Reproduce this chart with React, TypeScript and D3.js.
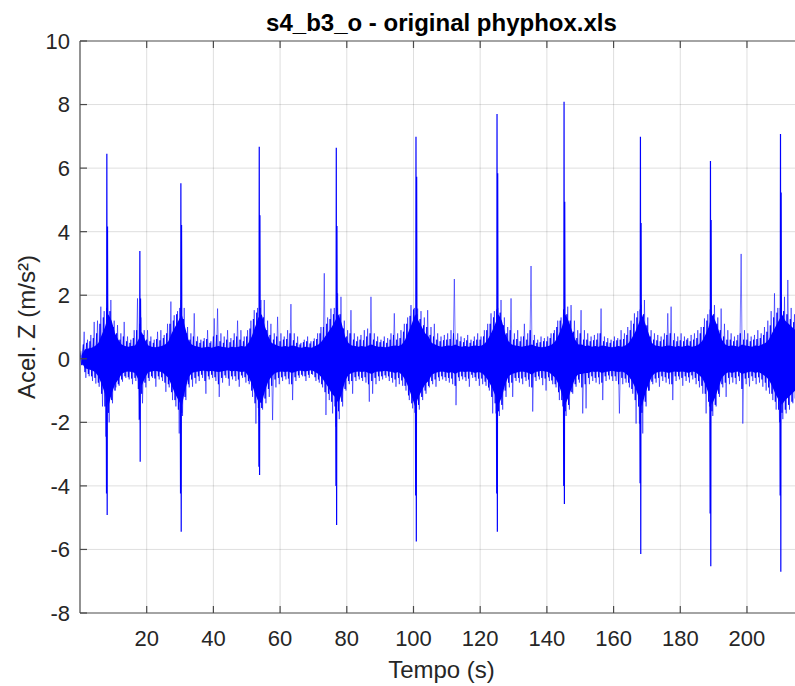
import React, { useEffect, useRef } from "react";
import * as d3 from "d3";

// axis ticks
const xTicks = [20, 40, 60, 80, 100, 120, 140, 160, 180, 200];
const yTicks = [-8, -6, -4, -2, 0, 2, 4, 6, 8, 10];

// signal envelope, one bin per second starting at t = 0
// solid core of the trace
const coreHi = [
  0.12, 0.3, 0.32, 0.35, 0.4, 0.5, 0.75, 1.0, 1.4, 1.2,
  0.8, 0.6, 0.45, 0.4, 0.38, 0.4, 0.42, 0.6, 0.85, 0.6,
  0.42, 0.38, 0.36, 0.38, 0.4, 0.45, 0.55, 0.8, 1.0, 1.2,
  1.4, 1.0, 0.6, 0.45, 0.4, 0.38, 0.35, 0.36, 0.38, 0.35,
  0.38, 0.4, 0.38, 0.36, 0.35, 0.38, 0.36, 0.38, 0.4, 0.38,
  0.5, 0.7, 1.0, 1.3, 1.4, 1.0, 0.7, 0.5, 0.45, 0.4,
  0.38, 0.4, 0.38, 0.42, 0.4, 0.36, 0.35, 0.38, 0.36, 0.35,
  0.4, 0.45, 0.55, 0.7, 0.85, 1.0, 1.2, 1.4, 1.1, 0.7,
  0.5, 0.42, 0.4, 0.38, 0.4, 0.38, 0.42, 0.45, 0.4, 0.38,
  0.38, 0.36, 0.38, 0.4, 0.42, 0.4, 0.45, 0.6, 0.85, 1.1,
  1.4, 1.2, 1.0, 0.8, 0.7, 0.5, 0.45, 0.4, 0.38, 0.4,
  0.42, 0.4, 0.45, 0.4, 0.38, 0.4, 0.38, 0.4, 0.42, 0.4,
  0.42, 0.5, 0.65, 0.85, 1.1, 1.4, 1.2, 0.8, 0.55, 0.45,
  0.42, 0.4, 0.38, 0.4, 0.42, 0.45, 0.4, 0.38, 0.36, 0.38,
  0.4, 0.45, 0.55, 0.75, 1.0, 1.4, 1.2, 0.9, 0.6, 0.45,
  0.45, 0.4, 0.42, 0.38, 0.4, 0.38, 0.42, 0.4, 0.38, 0.36,
  0.38, 0.4, 0.38, 0.42, 0.5, 0.65, 0.85, 1.1, 1.4, 1.1,
  0.8, 0.5, 0.42, 0.4, 0.38, 0.4, 0.42, 0.4, 0.38, 0.4,
  0.38, 0.4, 0.42, 0.38, 0.4, 0.45, 0.55, 0.75, 1.0, 1.4,
  1.2, 0.9, 0.6, 0.45, 0.4, 0.42, 0.4, 0.38, 0.45, 0.42,
  0.4, 0.38, 0.42, 0.4, 0.45, 0.5, 0.6, 0.8, 1.0, 1.2,
  1.4, 1.2, 1.1, 1.0, 0.9, 0.9, 0.85,
];
const coreLo = [
  -0.12, -0.3, -0.33, -0.36, -0.42, -0.55, -0.8, -1.1, -1.5, -1.1,
  -0.8, -0.65, -0.48, -0.42, -0.4, -0.42, -0.45, -0.65, -0.85, -0.6,
  -0.42, -0.4, -0.38, -0.4, -0.42, -0.5, -0.6, -0.85, -1.1, -1.3,
  -1.5, -1.0, -0.6, -0.45, -0.42, -0.4, -0.38, -0.38, -0.4, -0.38,
  -0.4, -0.42, -0.4, -0.38, -0.36, -0.4, -0.38, -0.4, -0.42, -0.4,
  -0.55, -0.8, -1.1, -1.35, -1.4, -1.0, -0.7, -0.55, -0.45, -0.42,
  -0.4, -0.42, -0.4, -0.45, -0.42, -0.38, -0.38, -0.4, -0.38, -0.36,
  -0.42, -0.48, -0.6, -0.75, -0.9, -1.1, -1.2, -1.4, -1.1, -0.7,
  -0.5, -0.45, -0.42, -0.4, -0.42, -0.4, -0.45, -0.48, -0.42, -0.4,
  -0.4, -0.38, -0.4, -0.42, -0.45, -0.42, -0.5, -0.65, -0.9, -1.2,
  -1.5, -1.2, -1.0, -0.8, -0.7, -0.5, -0.45, -0.42, -0.4, -0.42,
  -0.45, -0.42, -0.48, -0.42, -0.4, -0.42, -0.4, -0.42, -0.45, -0.42,
  -0.45, -0.55, -0.7, -0.9, -1.15, -1.45, -1.2, -0.8, -0.55, -0.48,
  -0.45, -0.42, -0.4, -0.42, -0.45, -0.5, -0.42, -0.4, -0.38, -0.4,
  -0.42, -0.5, -0.6, -0.8, -1.1, -1.45, -1.2, -0.9, -0.6, -0.48,
  -0.48, -0.45, -0.45, -0.4, -0.42, -0.4, -0.45, -0.42, -0.4, -0.38,
  -0.4, -0.42, -0.4, -0.45, -0.55, -0.7, -0.9, -1.2, -1.5, -1.1,
  -0.8, -0.55, -0.45, -0.42, -0.4, -0.42, -0.45, -0.42, -0.4, -0.42,
  -0.4, -0.42, -0.45, -0.4, -0.42, -0.5, -0.6, -0.8, -1.1, -1.45,
  -1.2, -0.9, -0.6, -0.48, -0.42, -0.45, -0.42, -0.4, -0.48, -0.45,
  -0.42, -0.4, -0.45, -0.42, -0.48, -0.55, -0.65, -0.85, -1.1, -1.3,
  -1.45, -1.3, -1.2, -1.1, -1.0, -1.0, -0.95,
];
// ragged fringe around the core
const midHi = [
  0.2, 0.45, 0.5, 0.55, 0.65, 0.8, 1.1, 1.3, 1.6, 1.5,
  1.0, 0.8, 0.6, 0.7, 0.55, 0.5, 0.65, 0.9, 1.1, 0.75,
  0.6, 0.55, 0.5, 0.62, 0.58, 0.65, 0.8, 1.1, 1.2, 1.4,
  1.6, 1.25, 0.8, 0.6, 0.7, 0.55, 0.5, 0.55, 0.62, 0.5,
  0.7, 0.75, 0.55, 0.5, 0.6, 0.52, 0.58, 0.7, 0.6, 0.55,
  0.7, 0.95, 1.25, 1.45, 1.6, 1.3, 0.9, 0.75, 0.6, 0.7,
  0.55, 0.6, 0.62, 0.8, 0.58, 0.5, 0.45, 0.52, 0.55, 0.48,
  0.55, 0.62, 0.8, 1.0, 1.1, 1.25, 1.4, 1.6, 1.4, 0.95,
  0.7, 0.8, 0.6, 0.55, 0.6, 0.58, 0.7, 0.8, 0.6, 0.55,
  0.52, 0.55, 0.5, 0.6, 0.75, 0.6, 0.65, 0.85, 1.1, 1.35,
  1.55, 1.4, 1.25, 1.05, 1.0, 0.75, 0.7, 0.6, 0.55, 0.58,
  0.6, 0.62, 0.8, 0.6, 0.55, 0.52, 0.58, 0.5, 0.55, 0.6,
  0.6, 0.7, 0.9, 1.1, 1.3, 1.55, 1.45, 1.05, 0.8, 0.9,
  0.6, 0.62, 0.55, 0.7, 0.6, 0.9, 0.58, 0.5, 0.52, 0.55,
  0.55, 0.65, 0.8, 1.0, 1.2, 1.55, 1.4, 1.2, 0.85, 0.65,
  0.8, 0.6, 0.6, 0.55, 0.58, 0.6, 0.8, 0.55, 0.52, 0.5,
  0.55, 0.58, 0.6, 0.62, 0.75, 0.9, 1.1, 1.3, 1.55, 1.4,
  1.05, 0.7, 0.6, 0.58, 0.55, 0.6, 0.75, 0.8, 0.58, 0.55,
  0.58, 0.55, 0.6, 0.55, 0.6, 0.65, 0.8, 1.0, 1.2, 1.55,
  1.4, 1.1, 0.9, 0.7, 0.6, 0.6, 0.55, 0.58, 0.8, 0.6,
  0.6, 0.55, 0.6, 0.62, 0.65, 0.75, 0.85, 1.05, 1.3, 1.45,
  1.6, 1.5, 1.4, 1.25, 1.15, 1.1, 1.05,
];
const midLo = [
  -0.2, -0.42, -0.48, -0.55, -0.6, -0.75, -1.1, -1.5, -1.7, -1.3,
  -1.0, -0.8, -0.65, -0.55, -0.58, -0.62, -0.6, -0.95, -1.1, -0.75,
  -0.6, -0.55, -0.62, -0.55, -0.58, -0.75, -0.8, -1.05, -1.3, -1.6,
  -1.7, -1.2, -0.8, -0.65, -0.6, -0.55, -0.5, -0.7, -0.55, -0.5,
  -0.58, -0.8, -0.6, -0.52, -0.62, -0.55, -0.55, -0.65, -0.52, -0.58,
  -0.7, -1.0, -1.4, -1.55, -1.55, -1.25, -0.95, -0.85, -0.65, -0.6,
  -0.58, -0.55, -0.62, -0.8, -0.58, -0.52, -0.5, -0.55, -0.5, -0.48,
  -0.58, -0.65, -0.8, -1.05, -1.1, -1.35, -1.5, -1.65, -1.35, -0.95,
  -0.7, -0.7, -0.58, -0.55, -0.6, -0.58, -0.8, -0.7, -0.6, -0.55,
  -0.55, -0.52, -0.55, -0.6, -0.65, -0.6, -0.68, -0.85, -1.15, -1.4,
  -1.7, -1.45, -1.2, -1.0, -0.85, -0.7, -0.65, -0.58, -0.55, -0.58,
  -0.6, -0.62, -0.85, -0.58, -0.55, -0.58, -0.62, -0.5, -0.58, -0.62,
  -0.62, -0.72, -0.9, -1.2, -1.4, -1.65, -1.45, -1.0, -0.75, -0.75,
  -0.6, -0.6, -0.62, -0.58, -0.65, -0.9, -0.58, -0.55, -0.6, -0.62,
  -0.58, -0.68, -0.8, -1.05, -1.3, -1.65, -1.45, -1.05, -0.8, -0.65,
  -0.9, -0.8, -0.6, -0.55, -0.6, -0.58, -0.75, -0.55, -0.52, -0.55,
  -0.55, -0.8, -0.6, -0.62, -0.75, -0.95, -1.3, -1.5, -1.7, -1.35,
  -1.0, -0.72, -0.62, -0.6, -0.55, -0.58, -0.62, -0.8, -0.55, -0.55,
  -0.6, -0.55, -0.58, -0.52, -0.6, -0.7, -0.85, -1.1, -1.35, -1.65,
  -1.45, -1.1, -0.8, -0.75, -0.6, -0.58, -0.6, -0.55, -0.95, -0.62,
  -0.6, -0.55, -0.6, -0.58, -0.65, -0.75, -0.9, -1.1, -1.35, -1.6,
  -1.7, -1.6, -1.45, -1.35, -1.25, -1.2, -1.15,
];
// thin outer excursions in each second
const peakHi = [
  0.25, 0.85, 0.6, 0.75, 1.16, 1.2, 1.64, 1.5, 1.9, 1.85,
  1.2, 1.06, 0.8, 1.16, 0.7, 0.6, 0.9, 1.9, 1.3, 0.9,
  0.9, 0.7, 0.6, 0.85, 0.9, 0.75, 1.1, 1.8, 1.37, 1.5,
  1.85, 1.6, 1.0, 0.8, 1.43, 0.7, 0.6, 0.65, 0.9, 0.55,
  1.27, 1.58, 0.8, 0.7, 0.9, 0.65, 0.8, 1.2, 0.9, 0.7,
  0.9, 1.2, 1.53, 1.6, 1.85, 1.85, 1.2, 1.1, 0.8, 1.32,
  0.8, 0.7, 0.9, 1.72, 0.8, 0.7, 0.5, 0.6, 0.7, 0.55,
  0.64, 0.8, 1.0, 2.69, 1.3, 1.58, 1.6, 2.06, 1.95, 1.2,
  0.9, 1.53, 0.8, 0.7, 0.75, 0.9, 0.95, 1.95, 0.8, 0.7,
  0.6, 0.7, 0.65, 0.8, 1.43, 0.8, 0.9, 1.1, 1.3, 1.69,
  1.6, 1.58, 1.5, 1.3, 1.53, 1.0, 1.1, 0.8, 0.7, 0.75,
  0.8, 0.9, 2.51, 0.8, 0.7, 0.65, 0.75, 0.6, 0.7, 0.8,
  0.7, 0.9, 1.1, 1.43, 1.5, 1.6, 1.85, 1.3, 1.0, 1.9,
  0.8, 0.9, 0.7, 1.1, 0.8, 2.92, 0.75, 0.6, 0.7, 0.65,
  0.7, 0.8, 0.9, 1.2, 1.3, 1.5, 1.64, 1.69, 1.2, 0.9,
  1.53, 0.9, 0.8, 0.7, 0.75, 0.8, 1.58, 0.7, 0.65, 0.6,
  0.7, 0.65, 0.9, 0.8, 1.0, 1.2, 1.43, 1.5, 1.7, 1.85,
  1.3, 0.9, 0.8, 0.75, 0.7, 0.8, 1.43, 1.64, 0.8, 0.7,
  0.8, 0.7, 0.65, 0.75, 0.8, 0.9, 1.0, 1.27, 1.4, 1.5,
  1.69, 1.3, 1.58, 1.1, 0.9, 0.8, 0.7, 0.75, 3.3, 0.9,
  0.8, 0.7, 0.75, 0.9, 0.8, 1.0, 1.2, 1.5, 2.06, 1.6,
  1.8, 1.95, 2.48, 1.6, 1.4, 1.3, 1.2,
];
const peakLo = [
  -0.2, -0.6, -0.55, -0.7, -0.78, -0.88, -1.5, -2.45, -2.0, -1.4,
  -0.9, -0.85, -0.72, -0.6, -0.65, -0.8, -0.7, -1.93, -1.4, -0.9,
  -0.7, -0.6, -0.88, -0.65, -0.7, -1.04, -0.9, -1.3, -1.5, -2.35,
  -1.8, -1.3, -0.9, -0.88, -0.78, -0.7, -0.6, -1.1, -0.65, -0.6,
  -0.7, -1.2, -0.75, -0.6, -0.85, -0.65, -0.7, -0.88, -0.6, -0.75,
  -0.8, -1.2, -2.04, -1.8, -1.6, -1.4, -1.2, -1.93, -0.9, -0.8,
  -0.7, -0.65, -0.8, -1.3, -0.7, -0.6, -0.55, -0.7, -0.6, -0.5,
  -0.7, -0.75, -0.9, -1.77, -1.3, -1.72, -2.14, -1.9, -1.5, -1.0,
  -0.8, -1.1, -0.7, -0.65, -0.7, -0.75, -1.35, -1.1, -0.8, -0.7,
  -0.65, -0.6, -0.7, -0.75, -0.88, -0.8, -0.85, -1.0, -1.3, -1.56,
  -1.93, -1.6, -1.3, -1.1, -0.9, -0.8, -0.88, -0.7, -0.65, -0.7,
  -0.75, -0.8, -1.46, -0.7, -0.65, -0.7, -0.88, -0.6, -0.7, -0.85,
  -0.8, -0.85, -1.0, -1.72, -1.72, -1.8, -1.6, -1.2, -0.9, -1.2,
  -0.7, -0.75, -0.8, -0.7, -0.88, -1.66, -0.7, -0.65, -0.83, -1.0,
  -0.7, -0.8, -0.9, -1.3, -1.5, -1.8, -1.6, -1.1, -0.88, -0.75,
  -1.72, -1.56, -0.8, -0.7, -0.75, -0.8, -1.3, -0.7, -0.65, -0.7,
  -0.7, -1.72, -0.8, -0.75, -0.9, -1.1, -2.04, -2.04, -2.35, -1.5,
  -1.0, -0.8, -0.75, -0.88, -0.7, -0.75, -0.8, -1.3, -0.7, -0.65,
  -0.85, -0.7, -0.75, -0.65, -0.8, -0.9, -1.1, -1.72, -1.5, -1.8,
  -1.5, -1.2, -0.9, -1.2, -0.8, -0.75, -0.8, -0.7, -2.04, -0.8,
  -0.87, -0.7, -0.8, -0.75, -0.88, -1.0, -1.1, -1.3, -1.6, -2.0,
  -1.9, -1.72, -1.6, -1.4, -1.3, -1.2, -1.1,
];

// the tall impacts
const spikeT = [8.1, 18.0, 30.3, 53.8, 76.9, 100.8, 125.1, 145.2, 168.1, 189.1, 210.1];
const spikeHi = [6.45, 3.39, 5.52, 6.67, 6.64, 6.99, 7.7, 8.09, 6.99, 6.22, 7.07];
const spikeHi2 = [4.16, 1.9, 4.21, 4.52, 4.18, 5.73, 5.84, 4.94, 4.27, 4.37, 5.23];
const spikeLo = [-4.92, -3.24, -5.44, -3.66, -5.23, -5.75, -5.44, -4.57, -6.14, -6.53, -6.7];
const spikeLo2 = [-4.24, -1.9, -4.24, -3.4, -4.0, -4.3, -4.24, -4.0, -3.92, -4.87, -4.3];

const W = 795;
const H = 686;
const FONT = "'Liberation Sans', Arial, Helvetica, sans-serif";
const BLUE = "#0000ff";

export default function App() {
  const ref = useRef<SVGSVGElement>(null);

  useEffect(() => {
    document.body.style.margin = "0";
    const svg = d3.select(ref.current);
    svg.selectAll("*").remove();

    const x = d3.scaleLinear().domain([0, 216.8]).range([80, 803]);
    const y = d3.scaleLinear().domain([-8, 10]).range([613, 41]);
    const [x0, x1] = x.range();
    const [yb, yt] = y.range();

    svg.append("rect").attr("width", W).attr("height", H).attr("fill", "#fff");

    svg.append("defs").append("clipPath").attr("id", "plotclip")
      .append("rect").attr("x", x0).attr("y", yt).attr("width", x1 - x0).attr("height", yb - yt);

    // grid
    const grid = svg.append("g").attr("stroke", "#262626").attr("stroke-opacity", 0.15).attr("stroke-width", 1);
    grid.selectAll("line.gx").data(xTicks).join("line").attr("class", "gx")
      .attr("x1", d => x(d)).attr("x2", d => x(d)).attr("y1", yt).attr("y2", yb);
    grid.selectAll("line.gy").data(yTicks.slice(1, -1)).join("line").attr("class", "gy")
      .attr("x1", x0).attr("x2", x1).attr("y1", d => y(d)).attr("y2", d => y(d));

    const plot = svg.append("g").attr("clip-path", "url(#plotclip)");
    const bins = d3.range(coreHi.length);
    const line = d3.line<[number, number]>().x(d => x(d[0])).y(d => y(d[1]));

    // outer whiskers, thin
    const pk: [number, number][] = bins.flatMap(i => [[i + 0.25, peakHi[i]], [i + 0.75, peakLo[i]]] as [number, number][]);
    plot.append("path").attr("d", line(pk)).attr("fill", "none")
      .attr("stroke", BLUE).attr("stroke-width", 0.7).attr("stroke-opacity", 0.75);

    // ragged fringe
    const md: [number, number][] = bins.flatMap(i => [[i, midHi[i]], [i + 0.5, midLo[i]]] as [number, number][]);
    plot.append("path").attr("d", line(md)).attr("fill", "none")
      .attr("stroke", BLUE).attr("stroke-width", 0.9);

    // solid core
    const core = d3.area<number>()
      .x(i => x(i + 0.5))
      .y0(i => y(coreLo[i]))
      .y1(i => y(coreHi[i]));
    plot.append("path").attr("d", core(bins)).attr("fill", BLUE);

    spikeT.forEach((t, k) => {
      const pts: [number, number][] = [
        [t - 0.25, 0], [t - 0.15, spikeLo2[k]], [t - 0.05, spikeHi[k]],
        [t + 0.05, spikeLo[k]], [t + 0.15, spikeHi2[k]], [t + 0.25, 0],
      ];
      plot.append("path").attr("d", line(pts)).attr("fill", "none")
        .attr("stroke", BLUE).attr("stroke-width", 1.2);
    });

    // box and ticks
    const ax = svg.append("g").attr("stroke", "#4a4a4a").attr("stroke-width", 1.2).attr("fill", "none");
    ax.append("line").attr("x1", x0).attr("x2", x1).attr("y1", yb).attr("y2", yb);
    ax.append("line").attr("x1", x0).attr("x2", x1).attr("y1", yt).attr("y2", yt);
    ax.append("line").attr("x1", x0).attr("x2", x0).attr("y1", yt).attr("y2", yb);
    ax.append("line").attr("x1", x1).attr("x2", x1).attr("y1", yt).attr("y2", yb);
    const tl = 7;
    ax.selectAll("line.tb").data(xTicks).join("line").attr("class", "tb")
      .attr("x1", d => x(d)).attr("x2", d => x(d)).attr("y1", yb).attr("y2", yb - tl);
    ax.selectAll("line.tt").data(xTicks).join("line").attr("class", "tt")
      .attr("x1", d => x(d)).attr("x2", d => x(d)).attr("y1", yt).attr("y2", yt + tl);
    ax.selectAll("line.tl").data(yTicks).join("line").attr("class", "tl")
      .attr("x1", x0).attr("x2", x0 + tl).attr("y1", d => y(d)).attr("y2", d => y(d));

    const txt = svg.append("g").attr("font-family", FONT).attr("fill", "#262626");
    txt.selectAll("text.xl").data(xTicks).join("text").attr("class", "xl")
      .attr("x", d => x(d)).attr("y", 646).attr("text-anchor", "middle")
      .attr("font-size", 22).text(d => String(d));
    txt.selectAll("text.yl").data(yTicks).join("text").attr("class", "yl")
      .attr("x", 70).attr("y", d => y(d)).attr("dy", "0.36em").attr("text-anchor", "end")
      .attr("font-size", 22).text(d => String(d));

    const cx = (x0 + x1) / 2;
    txt.append("text").attr("x", cx).attr("y", 678).attr("text-anchor", "middle")
      .attr("font-size", 24).text("Tempo (s)");
    txt.append("text").attr("transform", `translate(35,${(yt + yb) / 2}) rotate(-90)`)
      .attr("text-anchor", "middle").attr("font-size", 24).text("Acel. Z (m/s²)");
    txt.append("text").attr("x", cx).attr("y", 31).attr("text-anchor", "middle")
      .attr("font-size", 24).attr("font-weight", "bold").attr("fill", "#000")
      .text("s4_b3_o - original phyphox.xls");
  }, []);

  return <svg ref={ref} width={W} height={H} style={{ display: "block" }} />;
}
